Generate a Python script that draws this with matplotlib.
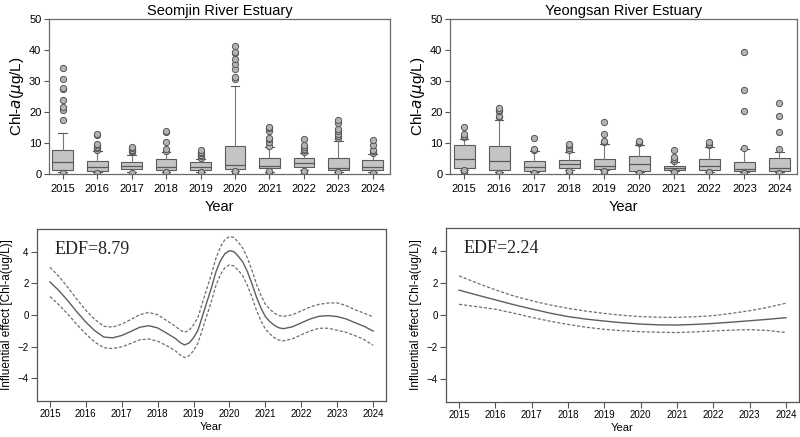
import numpy as np
import matplotlib
matplotlib.use("Agg")
import matplotlib.pyplot as plt

plt.rcParams['font.family'] = ['Liberation Sans', 'DejaVu Sans']

years = [2015, 2016, 2017, 2018, 2019, 2020, 2021, 2022, 2023, 2024]

# Seomjin River Estuary box statistics (Chl-a, ug/L)
sj_q1 = [1.3, 1.0, 1.5, 1.3, 1.3, 1.6, 1.8, 2.3, 1.3, 1.3]
sj_med = [4.0, 2.2, 2.7, 2.4, 2.4, 3.0, 2.6, 3.4, 2.0, 2.2]
sj_q3 = [7.8, 4.1, 3.9, 4.9, 3.9, 9.1, 5.1, 5.1, 5.1, 4.5]
sj_lo = [0.8, 0.5, 0.6, 0.5, 0.8, 0.9, 0.8, 1.2, 0.8, 0.6]
sj_hi = [13.3, 7.3, 6.0, 7.0, 4.9, 28.3, 8.7, 6.8, 10.8, 6.3]
sj_fliers = [
    [0.3, 17.5, 20.7, 21.5, 24.0, 27.3, 27.6, 30.5, 34.3],
    [0.2, 7.8, 8.3, 8.7, 9.2, 9.8, 12.5, 13.0],
    [0.3, 7.0, 7.4, 7.8, 8.3, 8.7],
    [0.2, 0.8, 7.5, 8.0, 10.3, 13.7, 14.0],
    [0.5, 5.3, 5.8, 6.2, 6.7, 7.2, 7.6],
    [0.5, 1.0, 30.8, 31.2, 33.8, 35.5, 37.0, 39.0, 39.5, 41.3],
    [0.2, 0.5, 1.0, 9.0, 10.2, 11.2, 11.6, 13.8, 14.8, 15.2],
    [0.5, 1.0, 7.2, 7.8, 8.2, 8.8, 9.2, 11.2],
    [0.5, 11.5, 12.2, 13.0, 14.0, 14.5, 16.5, 17.3],
    [0.3, 6.8, 7.3, 7.8, 9.5, 11.0],
]

# Yeongsan River Estuary box statistics (Chl-a, ug/L)
ys_q1 = [2.0, 1.2, 1.0, 2.0, 1.6, 1.0, 1.4, 1.3, 1.1, 0.9]
ys_med = [5.0, 4.3, 2.3, 3.3, 2.6, 3.3, 1.9, 2.7, 1.6, 1.8]
ys_q3 = [9.5, 9.0, 4.3, 4.6, 4.9, 5.9, 2.6, 4.9, 3.8, 5.2]
ys_lo = [1.4, 0.6, 0.6, 1.2, 1.2, 0.6, 0.9, 0.8, 0.6, 0.5]
ys_hi = [11.3, 17.5, 7.3, 7.0, 9.8, 9.5, 4.0, 8.8, 8.2, 7.2]
ys_fliers = [
    [0.5, 0.8, 1.2, 11.8, 12.3, 13.0, 15.2],
    [0.3, 18.3, 18.7, 20.3, 20.8, 21.2],
    [0.3, 7.7, 8.0, 11.7],
    [0.2, 0.6, 1.0, 7.8, 8.5, 9.2, 9.6],
    [0.5, 1.0, 10.3, 10.6, 12.8, 16.8],
    [0.3, 9.9, 10.2, 10.5],
    [0.6, 4.3, 4.8, 5.4, 7.7],
    [0.5, 9.2, 9.7, 10.2],
    [0.3, 8.4, 20.4, 27.2, 39.3],
    [0.2, 8.2, 13.6, 18.8, 23.0],
]

# GAM smooth, Seomjin (denser around the 2020 peak)
sj_x = [2015.0, 2015.25, 2015.5, 2015.75, 2016.0, 2016.25, 2016.5, 2016.75,
        2017.0, 2017.25, 2017.5, 2017.75, 2018.0, 2018.25,
        2018.5, 2018.625, 2018.75, 2018.875, 2019.0, 2019.125, 2019.25,
        2019.375, 2019.5, 2019.625, 2019.75, 2019.875, 2020.0, 2020.125,
        2020.25, 2020.375, 2020.5, 2020.625, 2020.75, 2020.875, 2021.0,
        2021.125, 2021.25, 2021.375, 2021.5,
        2021.75, 2022.0, 2022.25, 2022.5, 2022.75, 2023.0, 2023.25, 2023.5,
        2023.75, 2024.0]
sj_fit = [2.10, 1.55, 0.90, 0.20, -0.45, -1.00, -1.40, -1.45,
          -1.30, -1.05, -0.78, -0.68, -0.82, -1.15,
          -1.50, -1.75, -1.90, -1.78, -1.45, -0.95, -0.05,
          0.85, 1.75, 2.75, 3.45, 3.90, 4.08, 4.02,
          3.72, 3.35, 2.75, 2.00, 1.15, 0.45, -0.10,
          -0.42, -0.66, -0.81, -0.87,
          -0.75, -0.50, -0.25, -0.08, -0.04, -0.10, -0.25, -0.49,
          -0.72, -1.02]
sj_hw = [0.93, 0.90, 0.85, 0.80, 0.75, 0.72, 0.68, 0.68,
         0.72, 0.76, 0.80, 0.84, 0.84, 0.80,
         0.78, 0.79, 0.80, 0.81, 0.82, 0.82, 0.84,
         0.85, 0.86, 0.87, 0.88, 0.89, 0.90, 0.90,
         0.89, 0.88, 0.87, 0.85, 0.83, 0.81, 0.79,
         0.78, 0.78, 0.78, 0.78,
         0.76, 0.76, 0.76, 0.76, 0.80, 0.87, 0.85, 0.82,
         0.84, 0.90]

# GAM smooth, Yeongsan (half-year steps)
ys_x = np.arange(2015, 2024.01, 0.5)
ys_fit = [1.56, 1.25, 0.95, 0.65, 0.38, 0.12, -0.10, -0.26, -0.38, -0.49,
          -0.57, -0.62, -0.63, -0.59, -0.53, -0.45, -0.36, -0.27, -0.17]
ys_up = [2.46, 2.00, 1.58, 1.20, 0.90, 0.63, 0.42, 0.24, 0.10, -0.02,
         -0.10, -0.14, -0.15, -0.11, -0.04, 0.10, 0.27, 0.48, 0.74]
ys_low = [0.67, 0.52, 0.36, 0.12, -0.15, -0.39, -0.59, -0.77, -0.90, -0.99,
          -1.05, -1.08, -1.10, -1.06, -1.00, -0.95, -0.92, -0.97, -1.10]

W, H = 800, 437
fig = plt.figure(figsize=(8, 4.37), dpi=100)


def box_panel(rect, q1, med, q3, lo, hi, fliers, title):
    ax = fig.add_axes(rect)
    stats = []
    for i in range(len(years)):
        stats.append(dict(q1=q1[i], med=med[i], q3=q3[i], whislo=lo[i],
                          whishi=hi[i], fliers=fliers[i]))
    ax.bxp(stats, positions=range(1, 11), widths=0.6, patch_artist=True,
           boxprops=dict(facecolor='#c4c4c4', edgecolor='#5a5a5a', lw=0.8),
           medianprops=dict(color='#5a5a5a', lw=0.9),
           whiskerprops=dict(color='#7a7a7a', lw=0.8),
           capprops=dict(color='#5a5a5a', lw=0.8), capwidths=0.25,
           flierprops=dict(marker='o', markersize=4.5, markerfacecolor='#b4b4b4',
                           markeredgecolor='#555555', markeredgewidth=0.7))
    ax.set_xlim(0.6, 10.5)
    ax.set_ylim(0, 50)
    ax.set_yticks([0, 10, 20, 30, 40, 50])
    ax.set_xticks(range(1, 11))
    ax.set_xticklabels([str(y) for y in years])
    ax.tick_params(labelsize=8, length=3.5, color='#555555', width=0.8, pad=2)
    ax.tick_params(axis='x', pad=4)
    for s in ax.spines.values():
        s.set_color('#6a6a6a')
        s.set_linewidth(0.9)
    ax.set_title(title, fontsize=10.5, pad=3)
    ax.set_xlabel('Year', fontsize=10.5, labelpad=4)
    ax.set_ylabel(r'Chl-$\mathit{a}$($\mu$g/L)', fontsize=11, labelpad=2)
    return ax


def gam_panel(rect, x, fit, up, low, edf):
    ax = fig.add_axes(rect)
    ax.plot(x, fit, color='#5e5e5e', lw=1.0, solid_joinstyle='round')
    ax.plot(x, up, color='#6e6e6e', lw=0.9, ls=(0, (2.5, 1.5)))
    ax.plot(x, low, color='#6e6e6e', lw=0.9, ls=(0, (2.5, 1.5)))
    ax.set_xlim(2014.64, 2024.36)
    ax.set_ylim(-5.46, 5.46)
    ax.set_xticks(years)
    ax.set_yticks([-4, -2, 0, 2, 4])
    ax.tick_params(labelsize=7, length=4, color='#555555', width=0.8, pad=2)
    for s in ax.spines.values():
        s.set_color('#555555')
        s.set_linewidth(0.9)
    ax.set_xlabel('Year', fontsize=8, labelpad=2)
    ax.set_ylabel('Influential effect [Chl-a(ug/L)]', fontsize=8.5, labelpad=3)
    ax.text(0.05, 0.93, 'EDF=' + edf, transform=ax.transAxes, va='top',
            ha='left', fontsize=13, family='Liberation Serif', color='#222222')
    return ax


def rect(l, r, t, b):
    return [l / W, 1 - b / H, (r - l) / W, (b - t) / H]


box_panel(rect(49, 390, 19, 174), sj_q1, sj_med, sj_q3, sj_lo, sj_hi,
          sj_fliers, 'Seomjin River Estuary')
box_panel(rect(450, 797, 19, 174), ys_q1, ys_med, ys_q3, ys_lo, ys_hi,
          ys_fliers, 'Yeongsan River Estuary')

sj_up = np.array(sj_fit) + np.array(sj_hw)
sj_low = np.array(sj_fit) - np.array(sj_hw)
gam_panel(rect(37, 386, 229, 401), sj_x, sj_fit, sj_up, sj_low, '8.79')
gam_panel(rect(446, 799, 228, 402), ys_x, ys_fit, ys_up, ys_low, '2.24')

fig.savefig('out.png', dpi=100)
